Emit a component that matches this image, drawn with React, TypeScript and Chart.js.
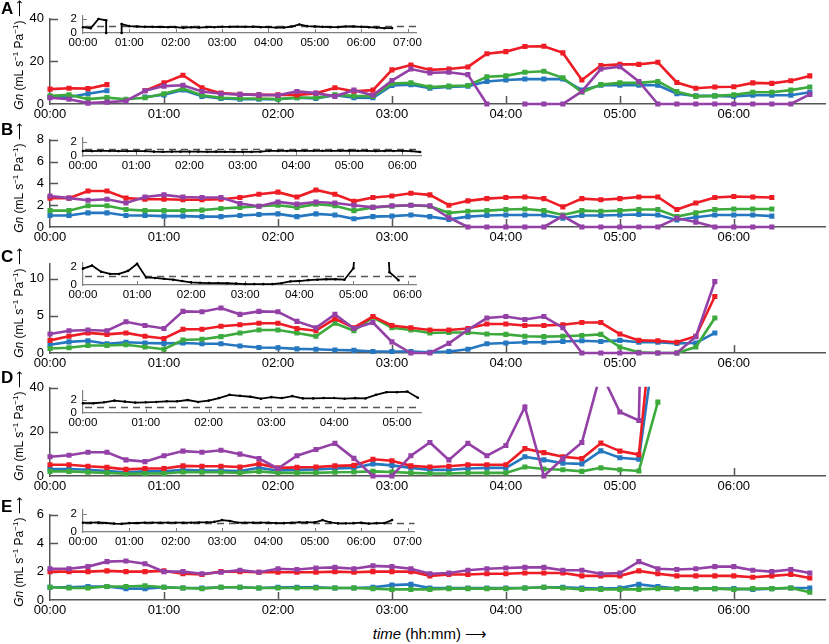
import { useEffect, useRef } from "react";
import { Chart, registerables } from "chart.js";

Chart.register(...registerables);

const FONT = '"Liberation Sans", Arial, Helvetica, sans-serif';
const RED = "#ee1c24";
const GREEN = "#3caa3c";
const BLUE = "#2577c0";
const PURPLE = "#9341a6";
const AXIS = "#555555";
const INSET_AXIS = "#808080";
const REF_LEVEL = 1;

// ---- panel A ----
const timesA = [0, 10, 20, 30, 40, 50, 60, 70, 80, 90, 100, 110, 120, 130, 140, 150, 160, 170, 180, 190, 200, 210, 220, 230, 240, 250, 260, 270, 280, 290, 300, 310, 320, 330, 340, 350, 360, 370, 380, 390, 400];
const redA = [7.0, 7.4, 7.2, 9.1, null, 6.2, 9.9, 13.5, 7.6, 5.1, 4.5, 4.3, 4.3, 4.3, 5.0, 7.6, 6.0, 6.5, 16, 18.3, 16, 16.4, 17.4, 23.6, 24.6, 27, 27.1, 24, 11.3, 18.1, 18.6, 18.6, 19.6, 10.1, 7.4, 8, 8.1, 9.9, 9.7, 10.9, 13.2];
const purpleA = [2.9, 2.2, 0.4, 0.9, 1.4, 6.2, 8.4, 8.8, 5.9, 4.8, 4.5, 4.3, 4.1, 5.9, 5.1, 3.6, 6.5, 4.1, 11, 16.4, 14.6, 14.9, 13.8, 0, null, 0, 0, 0, 5.9, 16.4, 17.5, 10.6, 0, 0, 0, 0, 0, 0, 0, 0, 4.5];
const greenA = [3.8, 4.3, 2.3, 3.0, 2.2, 2.9, 4.8, 7.2, 4.1, 2.9, 2.6, 2.6, 2.3, 3.0, 2.9, 4.3, 3.8, 3.6, 9.6, 9.9, 8, 8.4, 8.7, 12.8, 13.2, 14.9, 15.4, 12.3, 5.5, 9.1, 9.9, 9.9, 10.6, 5.8, 3.6, 3.8, 4.3, 5.5, 5.5, 6.5, 8];
const blueA = [3.3, 3.3, 4.8, 6.2, null, 3.3, 4.3, 6.6, 3.6, 2.6, 2.3, 2.2, 2.2, 2.9, 2.6, 4.1, 3.0, 2.9, 8.7, 9.1, 7.4, 8, 8.4, 10.6, 11.3, 11.7, 11.7, 11.7, 6.5, 8.8, 8.8, 8.8, 8.8, 4.8, 3.8, 3.8, 3.6, 4.1, 4.1, 4.1, 5.5];
const insetTimesA = [0, 10, 20, 30, 30, 40, 50, 50, 60, 70, 80, 90, 100, 110, 120, 130, 140, 150, 160, 170, 180, 190, 200, 210, 220, 230, 240, 250, 260, 270, 280, 290, 300, 310, 320, 330, 340, 350, 360, 370, 380, 390, 400];
const insetA = [0.85, 0.7, 2.05, 1.85, 0, null, 0, 1.3, 1.0, 0.95, 0.9, 0.9, 0.88, 0.85, 0.85, 0.75, 0.85, 0.8, 0.85, 0.85, 0.9, 0.9, 0.92, 0.9, 0.92, 0.85, 0.85, 0.8, 0.8, 0.95, 1.25, 1.0, 0.95, 0.9, 0.85, 0.85, 0.95, 0.95, 0.9, 0.85, 0.8, 0.7, 0.72];

// ---- panel B ----
const timesB = [0, 10, 20, 30, 40, 50, 60, 70, 80, 90, 100, 110, 120, 130, 140, 150, 160, 170, 180, 190, 200, 210, 220, 230, 240, 250, 260, 270, 280, 290, 300, 310, 320, 330, 340, 350, 360, 370, 380];
const redB = [2.65, 2.65, 3.3, 3.3, 2.65, 2.55, 2.55, 2.5, 2.5, 2.55, 2.7, 3.0, 3.2, 2.75, 3.4, 3.0, 2.35, 2.7, 2.85, 3.1, 2.95, 2.0, 2.4, 2.6, 2.7, 2.75, 2.6, 1.85, 2.6, 2.5, 2.6, 2.75, 2.75, 1.6, 2.2, 2.7, 2.8, 2.75, 2.7];
const purpleB = [2.85, 2.65, 2.45, 2.55, 2.2, 2.75, 2.95, 2.75, 2.7, 2.7, 2.15, 1.9, 2.3, 2.1, 2.3, 2.2, 2.0, 1.8, 1.95, 2.0, 1.95, 0.85, 0, 0, 0, 0, 0, 1.0, 0, 0, 0, 0, 0, 0.8, 0.45, 0, 0, 0, 0];
const greenB = [1.5, 1.5, 1.95, 1.95, 1.6, 1.5, 1.5, 1.5, 1.55, 1.7, 1.8, 1.9, 2.0, 1.8, 2.1, 1.95, 1.5, 1.8, 1.9, 2.0, 1.9, 1.3, 1.45, 1.5, 1.6, 1.65, 1.5, 1.1, 1.5, 1.45, 1.5, 1.6, 1.6, 0.95, 1.3, 1.6, 1.65, 1.65, 1.65];
const blueB = [1.05, 1.05, 1.3, 1.3, 1.05, 1.05, 1.0, 1.0, 0.95, 0.95, 1.05, 1.15, 1.2, 0.95, 1.2, 1.1, 0.75, 0.95, 1.0, 1.1, 0.95, 0.7, 0.95, 1.05, 1.1, 1.1, 1.1, 0.8, 1.05, 1.05, 1.1, 1.15, 1.1, 0.65, 0.9, 1.1, 1.1, 1.1, 1.0];
const insetB = [0.7, 0.68, 0.7, 0.7, 0.68, 0.68, 0.68, 0.68, 0.6, 0.58, 0.6, 0.6, 0.6, 0.6, 0.58, 0.6, 0.58, 0.57, 0.57, 0.57, 0.6, 0.7, 0.7, 0.7, 0.72, 0.72, 0.72, 0.72, 0.72, 0.72, 0.74, 0.72, 0.72, 0.68, 0.7, 0.7, 0.7, 0.68, 0.55];

// ---- panel C ----
const timesC = [0, 10, 20, 30, 40, 50, 60, 70, 80, 90, 100, 110, 120, 130, 140, 150, 160, 170, 180, 190, 200, 210, 220, 230, 240, 250, 260, 270, 280, 290, 300, 310, 320, 330, 340, 350];
const redC = [1.7, 2.25, 2.7, 2.5, 2.7, 2.25, 1.95, 3.2, 3.2, 3.6, 3.8, 4.0, 4.0, 3.3, 3.0, 4.6, 3.4, 4.9, 3.7, 3.4, 3.1, 3.1, 3.3, 3.9, 3.9, 3.7, 3.7, 3.8, 4.1, 4.1, 2.55, 1.7, 1.65, 1.45, 2.25, 7.6];
const purpleC = [2.55, 3.0, 3.1, 3.0, 4.2, 3.7, 3.3, 5.6, 5.55, 6.05, 5.2, 5.6, 5.55, 4.25, 3.4, 5.2, 3.3, 4.1, 1.5, 0, 0, 1.3, 3.1, 4.7, 4.9, 4.5, 4.9, 3.4, 0, 0, 0, 0, 0, 0, 2.2, 9.6];
const greenC = [0.6, 0.7, 1.0, 1.0, 1.1, 0.8, 0.5, 1.75, 1.85, 2.2, 2.7, 3.1, 3.1, 2.7, 2.25, 4.0, 3.0, 4.8, 3.4, 3.1, 2.7, 2.75, 2.75, 2.55, 2.5, 2.25, 2.2, 2.25, 2.35, 2.5, 0.8, 0.1, 0, 0, 0.8, 4.7];
const blueC = [1.1, 1.5, 1.65, 1.25, 1.45, 1.35, 1.3, 1.35, 1.25, 1.25, 0.95, 0.75, 0.7, 0.55, 0.5, 0.4, 0.35, 0.2, 0.2, 0.2, 0.1, 0.2, 0.5, 1.25, 1.35, 1.45, 1.45, 1.55, 1.65, 1.55, 1.7, 1.45, 1.45, 1.3, 1.35, 2.7];
const insetC = [1.85, 2.2, 1.5, 1.25, 1.25, 1.6, 2.4, 0.85, 0.8, 0.7, 0.6, 0.45, 0.3, 0.25, 0.22, 0.22, 0.2, 0.15, 0.1, 0.1, 0.1, 0.1, 0.2, 0.4, 0.45, 0.55, 0.6, 0.65, 0.65, 0.6, 1.9, 14, 20, 20, 1.45, 0.55];

// ---- panel D ----
const timesD = [0, 10, 20, 30, 40, 50, 60, 70, 80, 90, 100, 110, 120, 130, 140, 150, 160, 170, 180, 190, 200, 210, 220, 230, 240, 250, 260, 270, 280, 290, 300, 310, 320];
const redD = [5.1, 5.1, 4.4, 3.9, 3.0, 3.4, 3.4, 4.6, 4.4, 4.4, 4.1, 5.5, 3.7, 3.9, 4.1, 4.6, 4.8, 7.6, 6.9, 4.6, 4.1, 4.4, 5.1, 5.1, 5.1, 12.4, 10.6, 8.7, 7.9, 14.9, 11.3, 9.7, 95];
const purpleD = [8.7, 9.4, 10.8, 10.8, 7.3, 6.5, 9.2, 11.3, 10.8, 11.7, 9.9, 7.9, 3.4, 9.2, 12, 14.8, 8, 0, 0, 9.2, 15.2, 7.3, 14.8, 9.2, 13.8, 31.3, 0, 7.9, 15.2, 47, 29, 25.2, 400];
const greenD = [2.1, 2.1, 1.7, 1.4, 1.0, 1.1, 1.1, 1.8, 1.7, 1.7, 1.4, 2.1, 1.4, 1.4, 1.4, 1.7, 1.8, 2.1, 1.8, 1.4, 1.1, 1.1, 1.4, 1.4, 1.4, 4.1, 3.2, 2.8, 2.1, 3.7, 2.8, 2.3, 33.5];
const blueD = [3.2, 3.2, 2.8, 2.3, 1.7, 2.1, 2.1, 2.8, 2.5, 2.5, 2.3, 3.7, 2.5, 2.8, 3.0, 3.4, 3.7, 5.5, 4.8, 3.7, 2.8, 2.8, 3.4, 3.7, 3.7, 8.7, 7.3, 5.8, 5.5, 11.4, 8.3, 7.6, 70];
const insetD = [1.5, 1.5, 1.65, 1.9, 1.75, 1.6, 1.65, 1.7, 1.8, 1.8, 2.0, 1.7, 1.9, 2.3, 2.8, 2.65, 2.5, 2.2, 2.45, 2.3, 2.6, 2.25, 2.25, 2.3, 2.3, 2.2, 2.3, 2.25, 2.8, 3.2, 3.2, 3.3, 2.35];

// ---- panel E ----
const timesE = [0, 10, 20, 30, 40, 50, 60, 70, 80, 90, 100, 110, 120, 130, 140, 150, 160, 170, 180, 190, 200, 210, 220, 230, 240, 250, 260, 270, 280, 290, 300, 310, 320, 330, 340, 350, 360, 370, 380, 390, 400];
const redE = [2.0, 2.0, 2.0, 2.05, 2.0, 2.0, 2.05, 1.85, 1.8, 2.0, 2.0, 1.95, 1.95, 1.95, 1.95, 2.0, 1.95, 2.0, 2.0, 2.0, 1.7, 1.8, 1.8, 1.85, 1.85, 1.9, 1.9, 1.9, 1.7, 1.7, 1.7, 2.05, 1.85, 1.7, 1.7, 1.7, 1.7, 1.6, 1.7, 1.8, 1.55];
const purpleE = [2.2, 2.2, 2.35, 2.7, 2.75, 2.55, 2.0, 2.0, 1.85, 1.95, 2.1, 1.95, 2.2, 2.15, 2.25, 2.3, 2.2, 2.4, 2.35, 2.2, 1.85, 1.9, 2.1, 2.2, 2.25, 2.3, 2.3, 2.1, 2.1, 1.85, 1.9, 2.7, 2.2, 2.15, 2.2, 2.35, 2.35, 2.1, 2.0, 2.15, 1.9];
const greenE = [0.9, 0.85, 0.85, 0.95, 0.95, 1.0, 0.9, 0.85, 0.8, 0.9, 0.9, 0.85, 0.85, 0.85, 0.85, 0.85, 0.85, 0.8, 0.75, 0.75, 0.75, 0.8, 0.8, 0.8, 0.8, 0.85, 0.9, 0.85, 0.75, 0.75, 0.75, 0.75, 0.8, 0.8, 0.8, 0.8, 0.75, 0.8, 0.8, 0.85, 0.55];
const blueE = [0.9, 0.9, 0.95, 0.95, 0.8, 0.8, 0.9, 0.85, 0.85, 0.9, 0.9, 0.85, 0.9, 0.9, 0.9, 0.85, 0.85, 0.9, 1.05, 1.1, 0.85, 0.85, 0.85, 0.85, 0.85, 0.85, 0.9, 0.9, 0.85, 0.8, 0.85, 1.1, 0.95, 0.8, 0.8, 0.8, 0.8, 0.75, 0.8, 0.85, 0.85];
const insetE = [1.05, 1.05, 1.08, 1.02, 0.95, 0.92, 1.0, 1.02, 1.05, 1.05, 1.05, 1.05, 1.05, 1.05, 1.05, 1.08, 1.1, 1.15, 1.35, 1.25, 1.05, 1.05, 1.05, 1.05, 1.05, 1.0, 1.0, 1.05, 1.1, 1.1, 1.1, 1.35, 1.1, 0.98, 0.98, 1.0, 1.05, 0.95, 1.0, 1.0, 1.35];

const hhmm = (v: number) => {
  const h = Math.floor(v / 60);
  const m = Math.round(v % 60);
  return `${String(h).padStart(2, "0")}:${String(m).padStart(2, "0")}`;
};

const pts = (times: number[], vals: (number | null)[]) => times.map((t, i) => ({ x: t, y: vals[i] }));

// tick marks drawn inward, plus the dashed reference line of the insets
const innerTicks = {
  id: "innerTicks",
  beforeDatasetsDraw(chart: any, _args: any, opts: any) {
    const { ctx, chartArea: a, scales } = chart;
    const { x, y } = scales;
    ctx.save();
    ctx.strokeStyle = opts.color;
    ctx.lineWidth = opts.width;
    ctx.beginPath();
    x.ticks.forEach((t: any) => {
      if (t.value === x.min) return;
      const px = Math.round(x.getPixelForValue(t.value)) + 0.5;
      ctx.moveTo(px, a.bottom);
      ctx.lineTo(px, a.bottom - opts.len);
    });
    y.ticks.forEach((t: any) => {
      if (t.value === y.min) return;
      const py = Math.round(y.getPixelForValue(t.value)) + 0.5;
      ctx.moveTo(a.left, py);
      ctx.lineTo(a.left + opts.len, py);
    });
    ctx.stroke();
    if (opts.ref != null) {
      const py = Math.round(y.getPixelForValue(opts.ref)) + 0.5;
      ctx.strokeStyle = "#555";
      ctx.lineWidth = 1.5;
      ctx.setLineDash([7, 5]);
      ctx.beginPath();
      ctx.moveTo(a.left + 2, py);
      ctx.lineTo(a.right, py);
      ctx.stroke();
    }
    ctx.restore();
  },
};

const lineSet = (times: number[], vals: (number | null)[], color: string) => ({
  data: pts(times, vals),
  borderColor: color,
  backgroundColor: color,
  borderWidth: 2.6,
  pointStyle: "rect",
  pointRadius: 3.6,
  pointBorderWidth: 0,
  tension: 0,
  clip: { left: 6, right: 6, top: 1, bottom: 6 },
});

function mainConfig(times: number[], series: any[], yMax: number, step: number) {
  const [purple, red, green, blue] = series;
  return {
    type: "line",
    data: {
      datasets: [
        lineSet(times, purple, PURPLE),
        lineSet(times, red, RED),
        lineSet(times, green, GREEN),
        lineSet(times, blue, BLUE),
      ],
    },
    options: {
      responsive: false,
      animation: false,
      events: [],
      layout: { padding: { top: 6, right: 3, left: 0, bottom: 0 } },
      plugins: {
        legend: { display: false },
        tooltip: { enabled: false },
        innerTicks: { color: AXIS, width: 1.5, len: 8, ref: null },
      },
      scales: {
        x: {
          type: "linear",
          min: 0,
          max: 408,
          ticks: { stepSize: 60, callback: hhmm, includeBounds: false, autoSkip: false, maxRotation: 0, padding: 3, color: "#000", font: { family: FONT, size: 13 } },
          grid: { display: false, drawTicks: false },
          border: { display: true, color: AXIS, width: 1.5 },
          afterFit: (s: any) => { s.height = 24; },
        },
        y: {
          min: 0,
          max: yMax,
          ticks: { stepSize: step, includeBounds: false, padding: 6, color: "#000", font: { family: FONT, size: 13 } },
          grid: { display: false, drawTicks: false },
          border: { display: true, color: AXIS, width: 1.5 },
          afterFit: (s: any) => { s.width = 50; },
        },
      },
    },
    plugins: [innerTicks],
  };
}

function insetConfig(times: number[], vals: (number | null)[], xMax: number, yMax: number, step: number) {
  return {
    type: "line",
    data: {
      datasets: [
        {
          data: pts(times, vals),
          borderColor: "#000",
          backgroundColor: "#000",
          borderWidth: 1.8,
          pointRadius: 1.3,
          pointBorderWidth: 0,
          tension: 0,
          clip: { left: 4, right: 4, top: 1, bottom: 4 },
        },
      ],
    },
    options: {
      responsive: false,
      animation: false,
      events: [],
      layout: { padding: { top: 3, right: 3, left: 0, bottom: 0 } },
      plugins: {
        legend: { display: false },
        tooltip: { enabled: false },
        innerTicks: { color: INSET_AXIS, width: 1, len: 4, ref: REF_LEVEL },
      },
      scales: {
        x: {
          type: "linear",
          min: 0,
          max: xMax,
          ticks: { stepSize: 60, callback: hhmm, includeBounds: false, autoSkip: false, maxRotation: 0, padding: 3, color: "#000", font: { family: FONT, size: 11.5 } },
          grid: { display: false, drawTicks: false },
          border: { display: true, color: INSET_AXIS, width: 1.2 },
          afterFit: (s: any) => { s.height = 16; },
        },
        y: {
          min: 0,
          max: yMax,
          ticks: { stepSize: step, includeBounds: false, padding: 6, color: "#000", font: { family: FONT, size: 11.5 } },
          grid: { display: false, drawTicks: false },
          border: { display: true, color: INSET_AXIS, width: 1.2 },
          afterFit: (s: any) => { s.width = 31; },
        },
      },
    },
    plugins: [innerTicks],
  };
}

type Box = { left: number; top: number; width: number; height: number; build: () => any };

function ChartBox({ left, top, width, height, build }: Box) {
  const canvasRef = useRef<HTMLCanvasElement>(null);
  useEffect(() => {
    if (!canvasRef.current) return;
    const chart = new Chart(canvasRef.current, build());
    return () => chart.destroy();
  }, [build]);
  return <canvas ref={canvasRef} width={width} height={height} style={{ position: "absolute", left, top, width, height }} />;
}

// page geometry: y pixel of axis max and of zero for each main panel
const panels = [
  { key: "A", top: 11, bottom: 104, letterTop: 0, titleY: 55, build: () => mainConfig(timesA, [purpleA, redA, greenA, blueA], 40, 20) },
  { key: "B", top: 132, bottom: 227, letterTop: 121, titleY: 178, build: () => mainConfig(timesB, [purpleB, redB, greenB, blueB], 8, 2) },
  { key: "C", top: 256, bottom: 353, letterTop: 248, titleY: 303, build: () => mainConfig(timesC, [purpleC, redC, greenC, blueC], 12, 5) },
  { key: "D", top: 380, bottom: 476, letterTop: 369, titleY: 426, build: () => mainConfig(timesD, [purpleD, redD, greenD, blueD], 40, 20) },
  { key: "E", top: 507, bottom: 600, letterTop: 498, titleY: 552, build: () => mainConfig(timesE, [purpleE, redE, greenE, blueE], 6, 2) },
];

const insets = [
  { key: "iA", top: 5.5, bottom: 33, build: () => insetConfig(insetTimesA, insetA, 431, 2.5, 1) },
  { key: "iB", top: 128, bottom: 156, build: () => insetConfig(timesB, insetB, 381, 2.5, 1) },
  { key: "iC", top: 253, bottom: 285, build: () => insetConfig(timesC, insetC, 370, 2.5, 1) },
  { key: "iD", top: 381, bottom: 413, build: () => insetConfig(timesD, insetD, 323, 3.4, 2) },
  { key: "iE", top: 500, bottom: 532, build: () => insetConfig(timesE, insetE, 429, 2.5, 1) },
];

const supStyle = { fontSize: 8, verticalAlign: "super", lineHeight: 0 } as const;

export default function App() {
  return (
    <div style={{ position: "absolute", left: 0, top: 0, width: 829, height: 644, background: "#fff", fontFamily: FONT, color: "#000", overflow: "hidden" }}>
      {panels.map((p) => (
        <ChartBox key={p.key} left={0} top={p.top - 6} width={829} height={p.bottom - p.top + 30} build={p.build} />
      ))}
      {insets.map((p) => (
        <ChartBox key={p.key} left={52} top={p.top - 3} width={373} height={p.bottom - p.top + 19} build={p.build} />
      ))}
      {panels.map((p) => (
        <div key={"l" + p.key} style={{ position: "absolute", left: 1, top: p.letterTop, fontSize: 17, fontWeight: "bold", lineHeight: 1 }}>
          {p.key}
        </div>
      ))}
      {panels.map((p) => (
        <div
          key={"t" + p.key}
          style={{ position: "absolute", left: 19, top: p.titleY, transform: "translate(-50%, -50%) rotate(-90deg)", whiteSpace: "nowrap", fontSize: 12, lineHeight: 1 }}
        >
          <i>Gn</i> (mL s<sup style={supStyle}>−1</sup> Pa<sup style={supStyle}>−1</sup>) ⟶
        </div>
      ))}
      <div style={{ position: "absolute", left: 430, top: 633, transform: "translate(-50%, -50%)", whiteSpace: "nowrap", fontSize: 15, lineHeight: 1 }}>
        <i>time</i> (hh:mm) ⟶
      </div>
    </div>
  );
}
